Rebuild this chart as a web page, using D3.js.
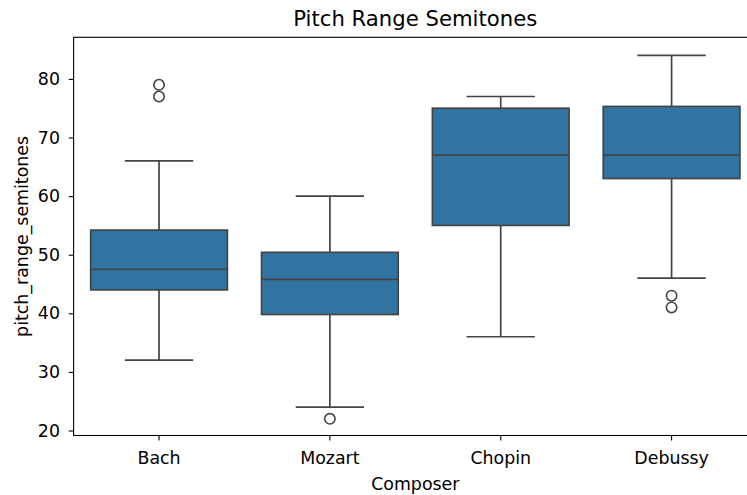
<!DOCTYPE html>
<html>
<head>
<meta charset="utf-8">
<script src="https://d3js.org/d3.v7.min.js"></script>
<style>
  body { margin: 0; background: white; }
  svg { font-family: "DejaVu Sans", sans-serif; display: block; }
</style>
</head>
<body>
<div id="chart"></div>
<script>
// box statistics
var composers = ["Bach", "Mozart", "Chopin", "Debussy"];
var whiskerLow = [32, 24, 36, 46];
var q1 = [44, 39.8, 55, 63];
var median = [47.5, 45.8, 67, 67];
var q3 = [54.2, 50.4, 75, 75.3];
var whiskerHigh = [66, 60, 77, 84];
var outliers = [[77, 79], [22], [], [41, 43]];
var yTicks = [20, 30, 40, 50, 60, 70, 80];

var width = 747, height = 495;
var plotLeft = 73.6, plotRight = 757, plotTop = 37.3, plotBottom = 435.5;

var boxFill = "#3274a1", lineCol = "#444444";
var fontSize = "17.4px";

var svg = d3.select("#chart").append("svg")
  .attr("width", width).attr("height", height);

var x = d3.scaleBand().domain(composers).range([plotLeft, plotRight]).padding(0);
var y = d3.scaleLinear().domain([19.15, 87.1]).range([plotBottom, plotTop]);

var boxW = x.bandwidth() * 0.8;
var capW = boxW / 2;

var data = composers.map(function(c, i) {
  return {name: c, lo: whiskerLow[i], q1: q1[i], med: median[i], q3: q3[i], hi: whiskerHigh[i], out: outliers[i]};
});

var g = svg.selectAll(".box").data(data).enter().append("g").attr("class", "box");

function cx(d) { return x(d.name) + x.bandwidth() / 2; }

// whiskers
g.append("line").attr("x1", cx).attr("x2", cx)
  .attr("y1", function(d) { return y(d.hi); }).attr("y2", function(d) { return y(d.q3); })
  .attr("stroke", lineCol).attr("stroke-width", 1.7);
g.append("line").attr("x1", cx).attr("x2", cx)
  .attr("y1", function(d) { return y(d.q1); }).attr("y2", function(d) { return y(d.lo); })
  .attr("stroke", lineCol).attr("stroke-width", 1.7);
// caps
["hi", "lo"].forEach(function(k) {
  g.append("line")
    .attr("x1", function(d) { return cx(d) - capW / 2; })
    .attr("x2", function(d) { return cx(d) + capW / 2; })
    .attr("y1", function(d) { return y(d[k]); }).attr("y2", function(d) { return y(d[k]); })
    .attr("stroke", lineCol).attr("stroke-width", 1.7);
});
// box
g.append("rect")
  .attr("x", function(d) { return cx(d) - boxW / 2; })
  .attr("width", boxW)
  .attr("y", function(d) { return y(d.q3); })
  .attr("height", function(d) { return y(d.q1) - y(d.q3); })
  .attr("fill", boxFill).attr("stroke", lineCol).attr("stroke-width", 1.7);
// median
g.append("line")
  .attr("x1", function(d) { return cx(d) - boxW / 2; })
  .attr("x2", function(d) { return cx(d) + boxW / 2; })
  .attr("y1", function(d) { return y(d.med); }).attr("y2", function(d) { return y(d.med); })
  .attr("stroke", lineCol).attr("stroke-width", 1.7);
// fliers
g.each(function(d) {
  d3.select(this).selectAll("circle").data(d.out).enter().append("circle")
    .attr("cx", cx(d)).attr("cy", function(v) { return y(v); })
    .attr("r", 5.2).attr("fill", "none")
    .attr("stroke", lineCol).attr("stroke-width", 1.6);
});

// axes
var xAxis = svg.append("g").attr("transform", "translate(0," + plotBottom + ")")
  .call(d3.axisBottom(x).tickSize(4.9).tickSizeOuter(0));
xAxis.selectAll(".tick text").attr("dy", null).attr("y", 28.6);
var yAxis = svg.append("g").attr("transform", "translate(" + plotLeft + ",0)")
  .call(d3.axisLeft(y).tickValues(yTicks).tickSize(4.9).tickSizeOuter(0));
yAxis.selectAll(".tick text").attr("x", -13.6);
[xAxis, yAxis].forEach(function(a) {
  a.attr("font-size", null).attr("font-family", null);
  a.selectAll("text").attr("font-size", fontSize).attr("fill", "#000");
  a.selectAll("line").attr("stroke", "#000").attr("stroke-width", 1.1);
  a.select(".domain").remove();
});

// spines
svg.append("rect").attr("x", plotLeft).attr("y", plotTop)
  .attr("width", plotRight - plotLeft).attr("height", plotBottom - plotTop)
  .attr("fill", "none").attr("stroke", "#000").attr("stroke-width", 1.1);

// titles
svg.append("text").attr("x", (plotLeft + plotRight) / 2).attr("y", 26)
  .attr("text-anchor", "middle").attr("font-size", "21.2px").text("Pitch Range Semitones");
svg.append("text").attr("x", (plotLeft + plotRight) / 2).attr("y", 489.5)
  .attr("text-anchor", "middle").attr("font-size", fontSize).text("Composer");
svg.append("text")
  .attr("transform", "translate(28," + (plotTop + plotBottom) / 2 + ") rotate(-90)")
  .attr("text-anchor", "middle").attr("font-size", fontSize).text("pitch_range_semitones");
</script>
</body>
</html>
